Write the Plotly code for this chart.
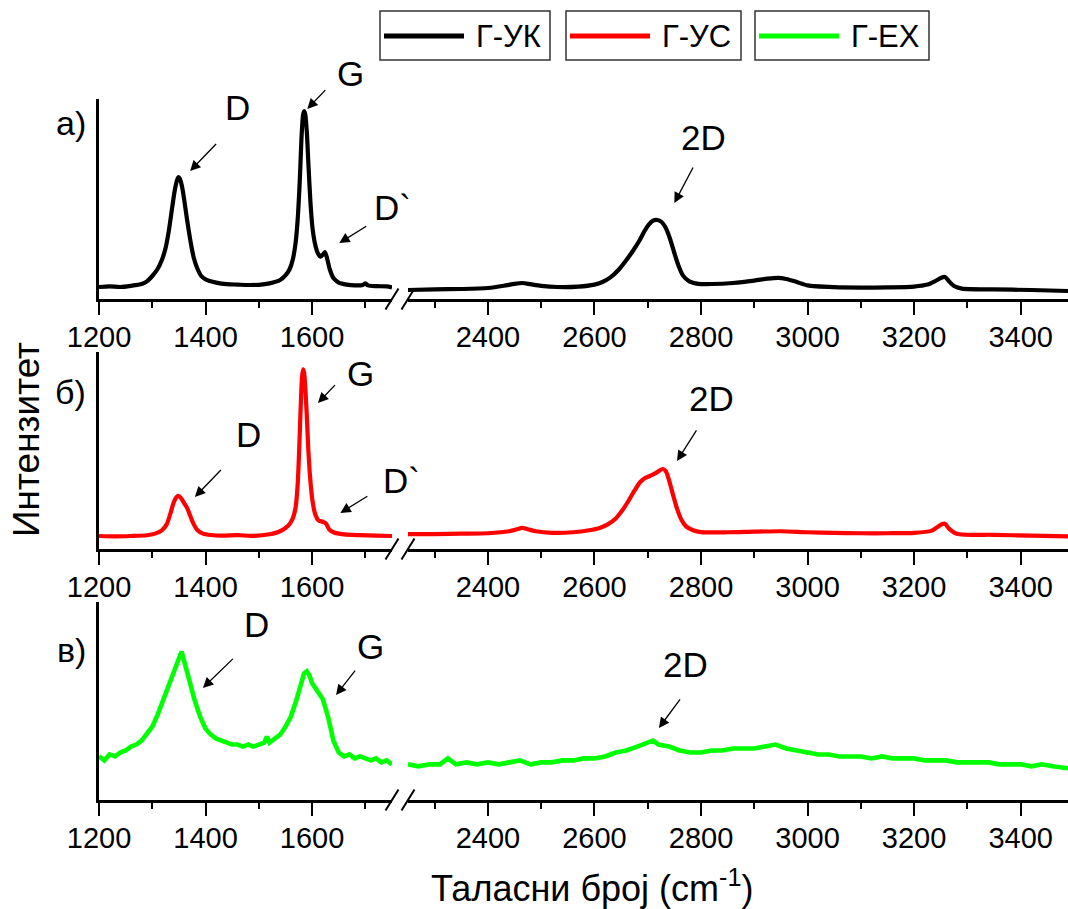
import plotly.graph_objects as go

# ---------------- data (arbitrary intensity units) -------------
# Panel a) Г-УК  (black)
a_left_x = [1200, 1220, 1240, 1260, 1280, 1290, 1300, 1310, 1318, 1325, 1331, 1337, 1342, 1346,
            1349, 1352, 1356, 1360, 1364, 1368, 1373, 1378, 1385, 1392, 1400, 1420, 1440, 1460,
            1480, 1500, 1520, 1540, 1550, 1558, 1564, 1569, 1573, 1577, 1580, 1583, 1585, 1587,
            1590, 1593, 1597, 1601, 1606, 1611, 1616, 1620, 1624, 1628, 1633, 1640, 1650, 1665,
            1680, 1695, 1700, 1705, 1720, 1740, 1750]
a_left_y = [0.060, 0.063, 0.060, 0.066, 0.075, 0.088, 0.115, 0.150, 0.195, 0.255, 0.340, 0.450,
            0.540, 0.590, 0.610, 0.600, 0.560, 0.495, 0.420, 0.350, 0.270, 0.205, 0.150, 0.115,
            0.098, 0.082, 0.074, 0.072, 0.070, 0.071, 0.078, 0.095, 0.118, 0.150, 0.200, 0.280,
            0.400, 0.600, 0.800, 0.920, 0.940, 0.925, 0.840, 0.680, 0.480, 0.350, 0.270, 0.228,
            0.212, 0.222, 0.235, 0.205, 0.150, 0.105, 0.082, 0.072, 0.068, 0.070, 0.078, 0.068,
            0.064, 0.063, 0.058]
a_right_x = [2250, 2300, 2350, 2400, 2430, 2450, 2465, 2480, 2500, 2530, 2570, 2600, 2615, 2630,
             2645, 2660, 2672, 2684, 2694, 2702, 2710, 2718, 2726, 2734, 2742, 2750, 2758, 2766,
             2778, 2795, 2820, 2860, 2900, 2925, 2945, 2960, 2980, 3000, 3050, 3100, 3150, 3200,
             3225, 3240, 3250, 3258, 3265, 3275, 3290, 3350, 3420, 3489]
a_right_y = [0.045, 0.048, 0.050, 0.055, 0.066, 0.076, 0.080, 0.074, 0.066, 0.060, 0.062, 0.072,
             0.085, 0.108, 0.145, 0.195, 0.240, 0.290, 0.340, 0.372, 0.392, 0.395, 0.385, 0.355,
             0.300, 0.230, 0.165, 0.118, 0.088, 0.076, 0.075, 0.080, 0.092, 0.102, 0.106, 0.100,
             0.085, 0.068, 0.059, 0.057, 0.058, 0.062, 0.072, 0.090, 0.105, 0.110, 0.090, 0.065,
             0.052, 0.048, 0.045, 0.040]

# Panel б) Г-УС  (red)
b_left_x = [1200, 1230, 1260, 1290, 1305, 1318, 1327, 1334, 1340, 1345, 1349, 1354, 1360, 1366,
            1371, 1377, 1385, 1395, 1410, 1430, 1460, 1490, 1520, 1540, 1555, 1563, 1569, 1573,
            1576, 1579, 1581, 1583, 1585, 1587, 1590, 1593, 1597, 1601, 1606, 1612, 1620, 1626,
            1632, 1640, 1660, 1690, 1720, 1750]
b_left_y = [0.066, 0.064, 0.066, 0.070, 0.078, 0.095, 0.125, 0.180, 0.235, 0.262, 0.270, 0.258,
            0.232, 0.205, 0.170, 0.130, 0.095, 0.078, 0.071, 0.068, 0.070, 0.067, 0.075, 0.090,
            0.118, 0.150, 0.210, 0.330, 0.520, 0.750, 0.870, 0.912, 0.895, 0.830, 0.680, 0.500,
            0.340, 0.240, 0.175, 0.145, 0.138, 0.130, 0.100, 0.085, 0.074, 0.070, 0.068, 0.066]
b_right_x = [2250, 2300, 2350, 2400, 2440, 2455, 2464, 2475, 2490, 2520, 2560, 2590, 2610, 2625,
             2640, 2652, 2664, 2676, 2686, 2695, 2705, 2715, 2722, 2728, 2734, 2740, 2747, 2755,
             2763, 2772, 2785, 2800, 2850, 2900, 2950, 3000, 3050, 3100, 3150, 3200, 3232, 3244,
             3252, 3258, 3265, 3280, 3350, 3420, 3489]
b_right_y = [0.076, 0.076, 0.078, 0.080, 0.090, 0.100, 0.107, 0.100, 0.090, 0.082, 0.085, 0.095,
             0.107, 0.125, 0.155, 0.195, 0.245, 0.300, 0.340, 0.360, 0.372, 0.385, 0.398, 0.406,
             0.395, 0.350, 0.280, 0.205, 0.150, 0.115, 0.095, 0.086, 0.085, 0.088, 0.090, 0.085,
             0.082, 0.080, 0.080, 0.082, 0.092, 0.112, 0.126, 0.128, 0.105, 0.078, 0.072, 0.068,
             0.064]

# Panel в) Г-ЕХ  (green)
c_left_x = [1200, 1210, 1220, 1230, 1240, 1250, 1260, 1270, 1280, 1290, 1300, 1310, 1320, 1330,
            1340, 1345, 1350, 1355, 1360, 1365, 1370, 1380, 1390, 1400, 1410, 1420, 1430, 1440,
            1450, 1460, 1470, 1480, 1490, 1500, 1510, 1515, 1520, 1530, 1540, 1550, 1560, 1570,
            1580, 1585, 1590, 1595, 1600, 1610, 1620, 1630, 1640, 1650, 1660, 1670, 1680, 1690,
            1700, 1710, 1720, 1730, 1740, 1750]
c_left_y = [0.22, 0.20, 0.23, 0.22, 0.24, 0.25, 0.27, 0.28, 0.30, 0.34, 0.37, 0.43, 0.50, 0.57,
            0.65, 0.67, 0.72, 0.75, 0.70, 0.64, 0.60, 0.50, 0.42, 0.36, 0.33, 0.31, 0.30, 0.29,
            0.28, 0.28, 0.27, 0.28, 0.27, 0.28, 0.29, 0.32, 0.29, 0.31, 0.33, 0.37, 0.42, 0.50,
            0.60, 0.64, 0.65, 0.63, 0.59, 0.55, 0.51, 0.42, 0.30, 0.24, 0.22, 0.23, 0.21, 0.22,
            0.21, 0.20, 0.21, 0.19, 0.20, 0.18]
c_right_x = [2250, 2270, 2290, 2310, 2325, 2340, 2360, 2380, 2400, 2420, 2440, 2460, 2480, 2500,
             2520, 2540, 2560, 2580, 2600, 2620, 2640, 2660, 2680, 2700, 2710, 2720, 2740, 2760,
             2780, 2800, 2820, 2840, 2860, 2880, 2900, 2920, 2940, 2960, 2980, 3000, 3020, 3040,
             3060, 3080, 3100, 3120, 3140, 3160, 3180, 3200, 3220, 3240, 3260, 3280, 3300, 3320,
             3340, 3360, 3380, 3400, 3420, 3440, 3460, 3489]
c_right_y = [0.18, 0.17, 0.18, 0.18, 0.21, 0.18, 0.19, 0.18, 0.19, 0.18, 0.19, 0.20, 0.18, 0.19,
             0.19, 0.20, 0.20, 0.21, 0.21, 0.22, 0.24, 0.25, 0.27, 0.29, 0.30, 0.28, 0.27, 0.25,
             0.24, 0.24, 0.25, 0.25, 0.26, 0.26, 0.26, 0.27, 0.28, 0.26, 0.25, 0.24, 0.23, 0.23,
             0.22, 0.22, 0.22, 0.21, 0.22, 0.21, 0.21, 0.21, 0.20, 0.20, 0.20, 0.19, 0.19, 0.19,
             0.19, 0.18, 0.18, 0.18, 0.17, 0.18, 0.17, 0.16]

series_names = ["Г-УК", "Г-УС", "Г-ЕХ"]
series_colors = ["#000000", "#ff0000", "#00ff00"]
panel_labels = ["а)", "б)", "в)"]
left_ticks = [1200, 1400, 1600]
right_ticks = [2400, 2600, 2800, 3000, 3200, 3400]

# ---------------- figure geometry -------------
W, H = 1068, 909
ML = 99
PW = W - ML


def pxx(px):
    return (px - ML) / PW


def pxy(py):
    return (H - py) / H


left_dom = [0.0, pxx(392)]
right_dom = [pxx(408), 1.0]
right_max = 2250 + (1068 - 408) / ((392 - 99) / 550.0)
row_px = [(99, 299), (352, 549), (602, 800)]  # (top, bottom) pixel rows

FONT = "Liberation Sans, Arial, sans-serif"

fig = go.Figure()

rows = [
    (a_left_x, a_left_y, a_right_x, a_right_y),
    (b_left_x, b_left_y, b_right_x, b_right_y),
    (c_left_x, c_left_y, c_right_x, c_right_y),
]

for i, (lx, ly, rx, ry) in enumerate(rows):
    xl = 2 * i + 1
    xr = 2 * i + 2
    lw = 4.6 if i == 2 else 4.2
    shape = "linear" if i == 2 else "spline"
    sl = "" if xl == 1 else str(xl)
    fig.add_trace(go.Scatter(x=lx, y=ly, mode="lines", name=series_names[i],
                             line=dict(color=series_colors[i], width=lw, shape=shape,
                                       smoothing=0.7),
                             xaxis=f"x{sl}", yaxis=f"y{sl}", showlegend=False))
    fig.add_trace(go.Scatter(x=rx, y=ry, mode="lines", name=series_names[i],
                             line=dict(color=series_colors[i], width=lw, shape=shape,
                                       smoothing=0.7),
                             xaxis=f"x{xr}", yaxis=f"y{xr}", showlegend=False))

axis_common = dict(showgrid=False, zeroline=False, showline=True, linecolor="black",
                   linewidth=2.5, ticks="outside", ticklen=13, tickwidth=2.2,
                   tickcolor="black", tickfont=dict(family=FONT, size=29, color="black"),
                   ticklabelstandoff=-3,
                   minor=dict(ticks="outside", ticklen=6, tickwidth=2.2, tickcolor="black",
                              dtick=100, showgrid=False),
                   fixedrange=True)

layout = dict(width=W, height=H, margin=dict(l=ML, r=0, t=0, b=0, pad=0),
              plot_bgcolor="white", paper_bgcolor="white", showlegend=False,
              font=dict(family=FONT, color="black"))

for i, (top, bot) in enumerate(row_px):
    dom = [pxy(bot), pxy(top)]
    xl = 2 * i + 1
    xr = 2 * i + 2
    sl = "" if xl == 1 else str(xl)
    layout[f"xaxis{sl}"] = dict(axis_common, domain=left_dom, range=[1200, 1750],
                                anchor=f"y{sl}", tickmode="array", tickvals=left_ticks,
                                ticktext=[str(v) for v in left_ticks])
    layout[f"xaxis{sl}"]["minor"] = dict(axis_common["minor"], tick0=1200)
    layout[f"xaxis{xr}"] = dict(axis_common, domain=right_dom, range=[2250, right_max],
                                anchor=f"y{xr}", tickmode="array", tickvals=right_ticks,
                                ticktext=[str(v) for v in right_ticks])
    layout[f"xaxis{xr}"]["minor"] = dict(axis_common["minor"], tick0=2300)
    layout[f"yaxis{sl}"] = dict(domain=dom, range=[0, 1], anchor=f"x{sl}", showline=True,
                                linecolor="black", linewidth=2.5, showticklabels=False,
                                ticks="", showgrid=False, zeroline=False, fixedrange=True)
    layout[f"yaxis{xr}"] = dict(domain=dom, range=[0, 1], anchor=f"x{xr}", visible=False,
                                showgrid=False, zeroline=False, fixedrange=True)

fig.update_layout(**layout)

# ---------------- axis-break marks -------------
shapes = []
for i in range(3):
    xl = 2 * i + 1
    xr = 2 * i + 2
    sl = "" if xl == 1 else str(xl)
    for xref, anchor in ((f"x{sl} domain", 1.0), (f"x{xr} domain", 0.0)):
        shapes.append(dict(type="line", xref=xref, yref=f"y{sl} domain",
                           xsizemode="pixel", ysizemode="pixel", xanchor=anchor, yanchor=0,
                           x0=-6.5, x1=6.5, y0=-10.5, y1=10.5,
                           line=dict(color="black", width=2)))

# ---------------- legend boxes (three framed entries) -------------
legend_boxes = [(380, 550), (566, 741), (755, 929)]
annotations = []
for (x0, x1), name, col in zip(legend_boxes, series_names, series_colors):
    shapes.append(dict(type="rect", xref="paper", yref="paper", x0=pxx(x0), x1=pxx(x1),
                       y0=pxy(60), y1=pxy(11), line=dict(color="#333333", width=1.5),
                       fillcolor="white"))
    shapes.append(dict(type="line", xref="paper", yref="paper", x0=pxx(x0 + 4), x1=pxx(x0 + 84),
                       y0=pxy(36), y1=pxy(36), line=dict(color=col, width=5)))
    annotations.append(dict(xref="paper", yref="paper", x=pxx(x0 + 94), y=pxy(36), text=name,
                            showarrow=False, xanchor="left", yanchor="middle",
                            font=dict(family=FONT, size=31, color="black")))

# ---------------- peak labels and arrows -------------
# (row, side, label, label x-domain, label y-domain)
peak_labels = [
    (0, "L", "D", 0.471, 0.96), (0, "L", "G", 0.860, 1.13), (0, "L", "D`", 1.000, 0.46),
    (0, "R", "2D", 0.447, 0.805),
    (1, "L", "D", 0.509, 0.579), (1, "L", "G", 0.891, 0.893), (1, "L", "D`", 1.034, 0.350),
    (1, "R", "2D", 0.460, 0.766),
    (2, "L", "D", 0.539, 0.884), (2, "L", "G", 0.925, 0.773), (2, "R", "2D", 0.421, 0.682),
]
# (row, side, head x (data), head y (domain), tail dx px, tail dy px)
arrows = [
    (0, "L", 1371, 0.64, 28, -29), (0, "L", 1591, 0.95, 20, -21), (0, "L", 1651, 0.28, 29, -18),
    (0, "R", 2750, 0.48, 20, -38),
    (1, "L", 1380, 0.264, 28, -29), (1, "L", 1611, 0.741, 19, -20), (1, "L", 1653, 0.183, 29, -18),
    (1, "R", 2755, 0.447, 21, -33),
    (2, "L", 1395, 0.566, 32, -31), (2, "L", 1645, 0.53, 21, -27), (2, "R", 2721, 0.364, 23, -31),
]


def axname(row, side):
    n = 2 * row + (1 if side == "L" else 2)
    return "" if n == 1 else str(n)


for row, side, txt, xd, yd in peak_labels:
    a = axname(row, side)
    annotations.append(dict(xref=f"x{a} domain", yref=f"y{a} domain", x=xd, y=yd, text=txt,
                            showarrow=False, xanchor="center", yanchor="middle",
                            font=dict(family=FONT, size=35, color="black")))

for row, side, hx, hy, dx, dy in arrows:
    a = axname(row, side)
    annotations.append(dict(xref=f"x{a}", yref=f"y{a} domain", x=hx, y=hy, ax=dx, ay=dy,
                            axref="pixel", ayref="pixel", text=" ", showarrow=True,
                            arrowhead=2, arrowsize=1.6, arrowwidth=1.3, arrowcolor="black",
                            standoff=0, startstandoff=0, font=dict(size=2)))

# panel letters
for row, lab in enumerate(panel_labels):
    ly = [123, 392, 650][row]
    a = axname(row, "L")
    annotations.append(dict(xref=f"x{a} domain", yref="paper", x=pxx(88) / (left_dom[1]),
                            y=pxy(ly), text=lab, showarrow=False, xanchor="right",
                            yanchor="middle", font=dict(family=FONT, size=34, color="black")))

# axis titles
annotations.append(dict(xref="paper", yref="paper", x=pxx(26), y=pxy(440), text="Интензитет",
                        textangle=-90, showarrow=False, xanchor="center", yanchor="middle",
                        borderpad=0, font=dict(family=FONT, size=37, color="black")))
annotations.append(dict(xref="paper", yref="paper", x=pxx(592), y=pxy(886),
                        text="Таласни број (cm<sup>-1</sup>)", showarrow=False,
                        xanchor="center", yanchor="middle", borderpad=0,
                        font=dict(family=FONT, size=36, color="black")))

fig.update_layout(shapes=shapes, annotations=annotations)

# the page body's default 8px margin would shift the figure; remove it
fig.write_html("out.html", config={"displayModeBar": False},
               post_script="document.body.style.margin='0px';")
